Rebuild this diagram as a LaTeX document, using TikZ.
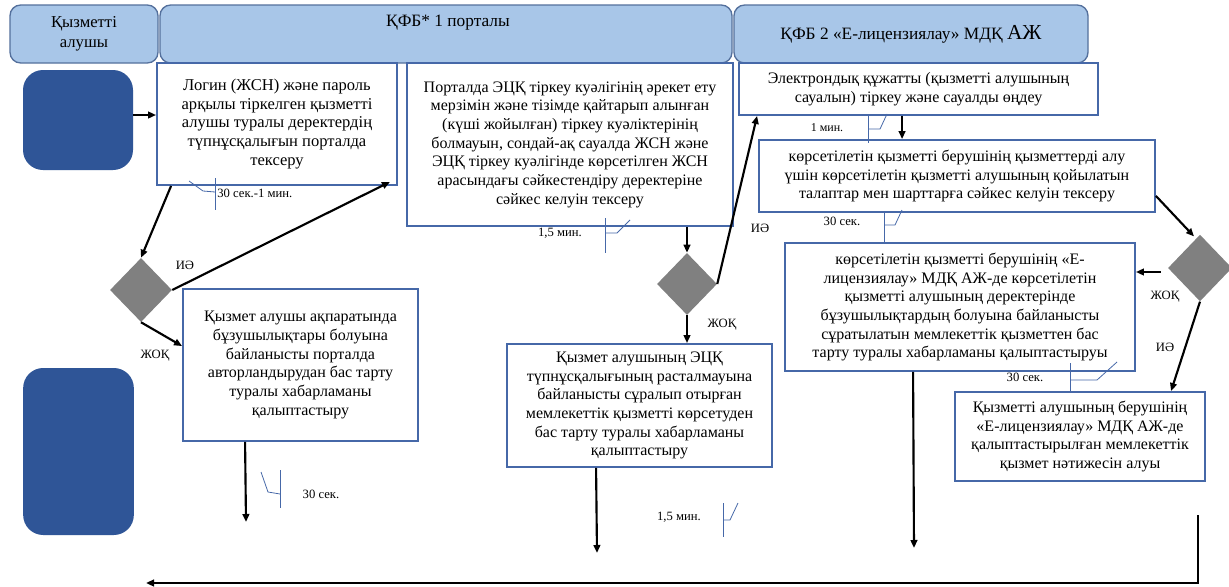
\documentclass[tikz,border=0pt]{standalone}
\usepackage{fontspec}
\setmainfont{Liberation Serif}
\usetikzlibrary{calc,arrows.meta,shapes.geometric,shadows}

\definecolor{hdrfill}{RGB}{168,198,232}
\definecolor{hdrdraw}{RGB}{84,112,156}
\definecolor{boxdraw}{RGB}{70,104,168}
\definecolor{termfill}{RGB}{47,85,151}
\definecolor{decfill}{RGB}{128,128,128}

\tikzset{
  hdr/.style={draw=hdrdraw, fill=hdrfill, line width=1pt, rounded corners=8pt, inner sep=0pt, align=center},
  procbox/.style={draw=boxdraw, fill=white, line width=1.4pt, align=center, inner sep=1pt,
     font=\fontsize{12}{14}\selectfont,
     drop shadow={shadow xshift=1pt, shadow yshift=-1pt, opacity=0.35}},
  term/.style={fill=termfill, rounded corners=15pt, inner sep=0pt},
  dec/.style={fill=decfill, diamond, inner sep=0pt, aspect=1},
  arr/.style={-{Triangle[length=6pt,width=5pt]}, line width=1.6pt, black},
  callout/.style={draw=boxdraw, line width=0.6pt},
  tlabel/.style={font=\fontsize{9.5}{10}\selectfont, inner sep=0pt},
  yn/.style={font=\fontsize{9.5}{10}\selectfont, inner sep=0pt}
}

\begin{document}
\begin{tikzpicture}[x=0.75pt,y=-0.75pt]
\fill[white] (0,0) rectangle (1229,586);
\useasboundingbox (0,0) rectangle (1229,586);

% headers
\node[hdr, minimum width=111pt, minimum height=43.5pt, font=\fontsize{12.5}{15}\selectfont] (h1) at (84,34) {Қызметті\\алушы};
\node[hdr, minimum width=429pt, minimum height=43.5pt] (h2) at (446,34) {};
\node[font=\fontsize{13}{15}\selectfont, inner sep=0pt] (h2t) at (448,23) {ҚФБ* 1 порталы};
\node[hdr, minimum width=265.5pt, minimum height=43.5pt, font=\fontsize{13}{15}\selectfont] (h3) at (911,34) {ҚФБ 2 «Е-лицензиялау» МДҚ {\fontsize{16}{16}\selectfont АЖ}};

% terminals
\node[term, minimum width=82.5pt, minimum height=75pt] (t1) at (78,120) {};
\node[term, minimum width=83pt, minimum height=125.25pt] (t2) at (78.5,451.5) {};

% process boxes
\node[procbox, minimum width=180pt, minimum height=91.5pt, font=\fontsize{12.4}{14}\selectfont] (login) at (277,124)
  {Логин (ЖСН) және пароль\\арқылы тіркелген қызметті\\алушы туралы деректердің\\түпнұсқалығын порталда\\тексеру};
\node[procbox, minimum width=244.5pt, minimum height=122.25pt] (portal) at (570,144.5)
  {Порталда ЭЦҚ тіркеу куәлігінің әрекет ету\\мерзімін және тізімде қайтарып алынған\\(күші жойылған) тіркеу куәліктерінің\\болмауын, сондай-ақ сауалда ЖСН және\\ЭЦҚ тіркеу куәлігінде көрсетілген ЖСН\\арасындағы сәйкестендіру деректеріне\\сәйкес келуін тексеру};
\node[procbox, minimum width=269.25pt, minimum height=39pt] (elec) at (918.5,89)
  {Электрондық құжатты (қызметті алушының\\сауалын) тіркеу және сауалды өңдеу};
\node[procbox, minimum width=297pt, minimum height=54pt] (check) at (957,176)
  {көрсетілетін қызметті берушінің қызметтерді алу\\үшін көрсетілетін қызметті алушының қойылатын\\талаптар мен шарттарға сәйкес келуін тексеру};
\node[procbox, minimum width=262.5pt, minimum height=96pt] (refuse2) at (960,307)
  {көрсетілетін қызметті берушінің «Е-\\лицензиялау» МДҚ АЖ-де көрсетілетін\\қызметті алушының деректерінде\\бұзушылықтардың болуына байланысты\\сұратылатын мемлекеттік қызметтен бас\\тарту туралы хабарламаны қалыптастыруы};
\node[procbox, minimum width=187.5pt, minimum height=66.75pt] (result) at (1080,436.5)
  {Қызметті алушының берушінің\\«Е-лицензиялау» МДҚ АЖ-де\\қалыптастырылған мемлекеттік\\қызмет нәтижесін алуы};
\node[procbox, minimum width=176.25pt, minimum height=114pt] (refuse1) at (300.5,365)
  {Қызмет алушы ақпаратында\\бұзушылықтары болуына\\байланысты порталда\\авторландырудан бас тарту\\туралы хабарламаны\\қалыптастыру};
\node[procbox, minimum width=198.75pt, minimum height=92.25pt] (ecp) at (639.5,405.5)
  {Қызмет алушының ЭЦҚ\\түпнұсқалығының расталмауына\\байланысты сұралып отырған\\мемлекеттік қызметті көрсетуден\\бас тарту туралы хабарламаны\\қалыптастыру};

% decisions
\node[dec, minimum width=46.5pt, minimum height=48pt] (d1) at (141,290) {};
\node[dec, minimum width=45pt, minimum height=46.5pt] (d2) at (687,284) {};
\node[dec, minimum width=48pt, minimum height=50pt] (d3) at (1200,268) {};

% free ends
\coordinate (e1) at (246,522);
\coordinate (e2) at (597,553);
\coordinate (e3) at (914,548);
\coordinate (s4) at (1198,515);
\coordinate (c4) at (1198,583);
\coordinate (e4) at (146,583);

% connectors
\draw[arr] ($(t1.east)+(0,-5)$) -- ($(login.west)+(0,-9)$);
\draw[arr] ($(login.south west)+(15,0)$) -- (d1.north);
\draw[arr] (d1.east) -- ($(login.south east)+(-8,-4)$);
\draw[arr] (d1.south) -- ($(refuse1.north west)+(0,58)$);
\draw[arr] ($(refuse1.south west)+(63,0)$) -- (e1);
\draw[arr] (d2.north |- portal.south) -- (d2.north);
\draw[arr] (d2.south) -- (d2.south |- ecp.north);
\draw[arr] (d2.east) -- ($(elec.south west)+(19,0)$);
\draw[arr] ($(ecp.south west)+(90,0)$) -- (e2);
\draw[arr] ($(elec.south west)+(164,0)$) -- ($(check.north west)+(144,0)$);
\draw[arr] ($(check.south east)+(0,-17)$) -- ($(d3.north)+(-6,2)$);
\draw[arr] ($(d3.west)+(-7,4)$) -- ($(refuse2.east)+(0,-35)$);
\draw[arr] (d3.south) -- ($(result.north west)+(217,0)$);
\draw[arr] ($(refuse2.south west)+(129,0)$) -- (e3);
\draw[arr] (s4) -- (c4) -- (e4);

% yes/no labels
\node[yn] (l1) at (185,265) {ИӘ};
\node[yn] (l2) at (155,356) {ЖОҚ};
\node[yn] (l3) at (760,228) {ИӘ};
\node[yn] (l4) at (722,325) {ЖОҚ};
\node[yn] (l5) at (1165,297) {ЖОҚ};
\node[yn] (l6) at (1165,347) {ИӘ};

% timing callouts
\draw[callout] (215,178) -- (215,210);
\draw[callout] (189,181) -- (203,191) -- (215,192);
\node[tlabel, anchor=west] (tm1) at (217,193) {30 сек.-1 мин.};

\draw[callout] (605,218) -- (605,253);
\draw[callout] (605,233) -- (617,233) -- (630,220);
\node[tlabel] (tm2) at (560,233) {1,5 мин.};

\draw[callout] (868,116) -- (868,143);
\draw[callout] (868,129) -- (880,129) -- (887,114);
\node[tlabel, font=\fontsize{9}{10}\selectfont] (tm3) at (827,128) {1 мин.};

\draw[callout] (884,212) -- (884,243);
\draw[callout] (884,225) -- (895,225) -- (902,210);
\node[tlabel] (tm4) at (842,221) {30 сек.};

\draw[callout] (1070,363) -- (1070,392);
\draw[callout] (1070,380) -- (1097,380) -- (1117,362);
\node[tlabel] (tm5) at (1025,377) {30 сек.};

\draw[callout] (280,470) -- (280,508);
\draw[callout] (261,472) -- (268,492) -- (280,494);
\node[tlabel] (tm6) at (321,494) {30 сек.};

\draw[callout] (723,503) -- (723,537);
\draw[callout] (723,520) -- (730,520) -- (738,503);
\node[tlabel] (tm7) at (679,517) {1,5 мин.};
\end{tikzpicture}
\end{document}
